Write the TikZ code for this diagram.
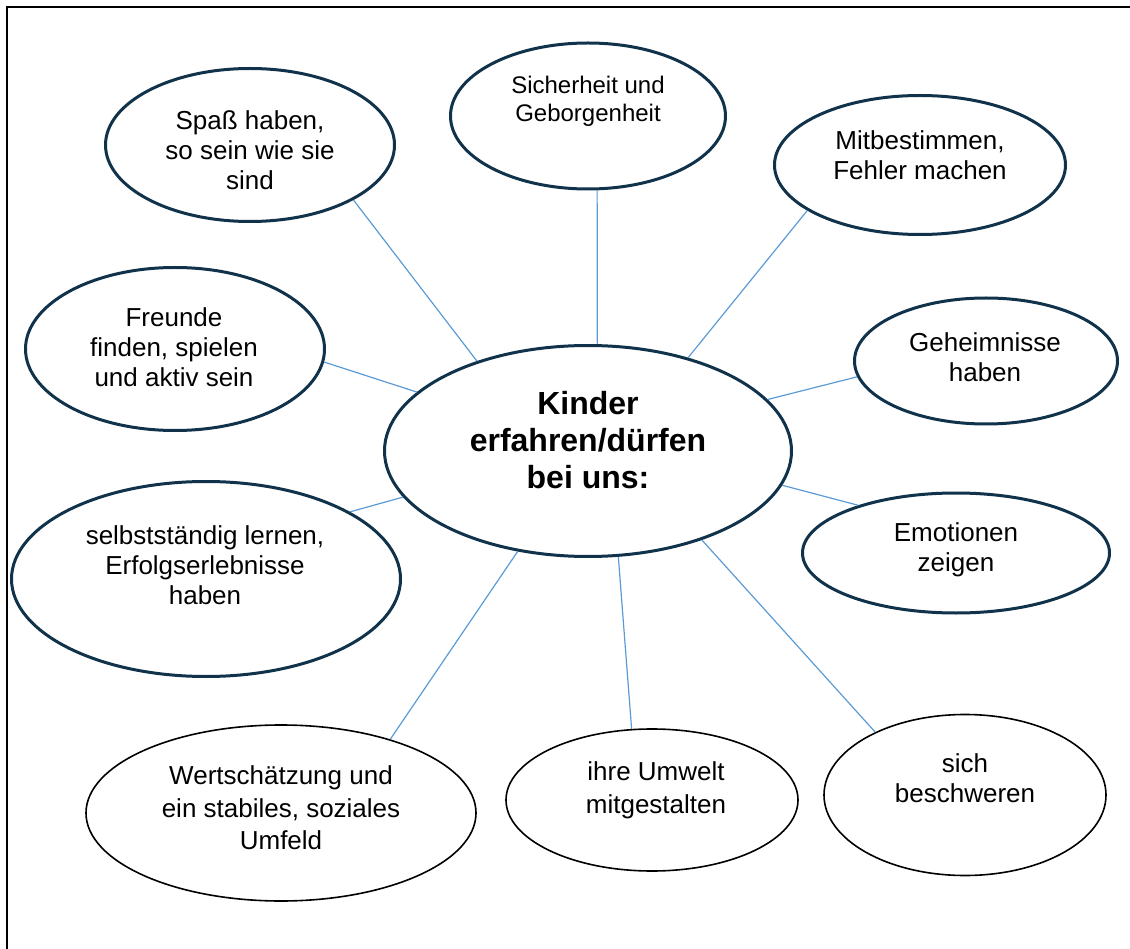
\documentclass[tikz,border=0pt]{standalone}
\usepackage{fontspec}
\setmainfont{Liberation Sans}
\usepackage{tikz}
\usetikzlibrary{shapes.geometric}
\usepackage{xcolor}
\definecolor{ringblue}{RGB}{16,50,74}
\definecolor{linkblue}{RGB}{91,155,213}

\begin{document}
\begin{tikzpicture}[
        x=1pt, y=-1pt,
        bub/.style={ellipse, draw=ringblue, line width=3pt, inner sep=0pt},
        thinbub/.style={ellipse, draw=black, line width=1.6pt, inner sep=0pt},
        txt/.style={align=center, inner sep=0pt, font=\fontsize{26}{30}\selectfont},
        link/.style={draw=linkblue, line width=1.2pt}
    ]
        \useasboundingbox (0,0) rectangle (1130,949);

        % Frame
        \draw[line width=2pt] (7,949) -- (7,7) -- (1130,7);

        % Centre
        \node[bub, minimum width=407, minimum height=211] (main) at (588, 451) {};
        \node[txt, font=\bfseries\fontsize{32}{37}\selectfont] (main-t) at (588, 440) {Kinder\\erfahren/dürfen\\bei uns:};

        % Upper ring
        \node[bub, minimum width=289, minimum height=153] (spass) at (250, 145) {};
        \node[txt] (spass-t) at (250, 150) {Spaß haben,\\so sein wie sie\\sind};

        \node[bub, minimum width=275, minimum height=146] (sicher) at (588, 116) {};
        \node[txt, font=\fontsize{24}{28}\selectfont] (sicher-t) at (588, 101) {Sicherheit und\\Geborgenheit};

        \node[bub, minimum width=291, minimum height=139] (mitbest) at (920, 165) {};
        \node[txt] (mitbest-t) at (920, 155) {Mitbestimmen,\\Fehler machen};

        \node[bub, minimum width=299, minimum height=163] (freunde) at (175, 349) {};
        \node[txt] (freunde-t) at (174, 347) {Freunde\\finden, spielen\\und aktiv sein};

        \node[bub, minimum width=263, minimum height=126] (geheim) at (986, 361) {};
        \node[txt] (geheim-t) at (985, 357) {Geheimnisse\\haben};

        % Lower ring
        \node[bub, minimum width=389, minimum height=195] (selbst) at (206, 579) {};
        \node[txt] (selbst-t) at (205, 565) {selbstständig lernen,\\Erfolgserlebnisse\\haben};

        \node[bub, minimum width=307, minimum height=120] (emotion) at (956, 553) {};
        \node[txt] (emotion-t) at (956, 550) {Emotionen\\zeigen};

        \node[thinbub, minimum width=390, minimum height=176] (wert) at (281, 813) {};
        \node[txt, font=\fontsize{26}{32.5}\selectfont] (wert-t) at (281, 808) {Wertschätzung und\\ein stabiles, soziales\\Umfeld};

        \node[thinbub, minimum width=292, minimum height=142] (umwelt) at (652, 800) {};
        \node[txt, font=\fontsize{26}{33}\selectfont] (umwelt-t) at (656, 790) {ihre Umwelt\\mitgestalten};

        \node[thinbub, minimum width=282, minimum height=161] (sich) at (965, 795) {};
        \node[txt] (sich-t) at (965, 778) {sich\\beschweren};

        % Links
        \draw[link] (spass.-28) -- (main.141);
        \draw[link] (sicher.-83) -- (main.85);
        \draw[link] (mitbest.-158) -- (main.43);
        \draw[link] (freunde.-5) -- (main.161);
        \draw[link] (geheim.-173) -- (main.16);
        \draw[link] (selbst.25) -- (main.-166);
        \draw[link] (emotion.154) -- (main.-10);
        \draw[link] (wert.34) -- (main.-125);
        \draw[link] (umwelt.106) -- (main.-74);
        \draw[link] (sich.145) -- (main.-38);
    \end{tikzpicture}
\end{document}
